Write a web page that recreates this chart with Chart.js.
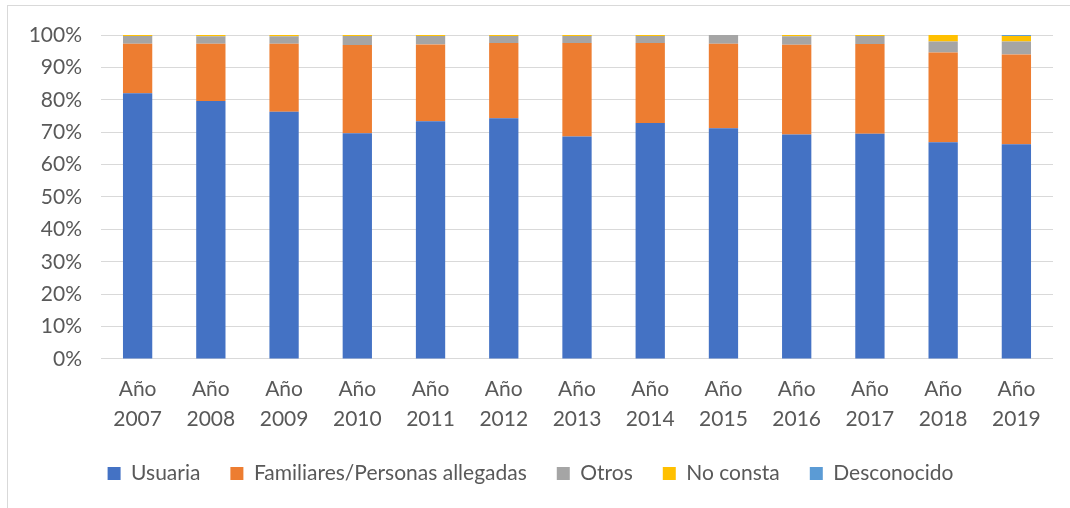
<!DOCTYPE html>
<html>
<head>
<meta charset="utf-8">
<script src="https://cdn.jsdelivr.net/npm/chart.js@4"></script>
<style>
  html, body { margin: 0; padding: 0; background: #fff; }
  #wrap { position: absolute; left: 7px; top: 5px; width: 1063px; height: 503px;
          border-left: 1px solid #d9d9d9; border-top: 1px solid #d9d9d9; box-sizing: border-box; }
  canvas { display: block; }
</style>
</head>
<body>
<div id="wrap"><canvas id="chart" width="1062" height="502"></canvas></div>
<script>
// Data (percent)
const years = ['2007', '2008', '2009', '2010', '2011', '2012', '2013', '2014', '2015', '2016', '2017', '2018', '2019'];
const usuaria     = [82.0, 79.6, 76.3, 69.7, 73.4, 74.3, 68.7, 72.8, 71.2, 69.3, 69.5, 66.9, 66.3];
const familiares  = [15.3, 17.7, 21.0, 27.2, 23.7, 23.2, 28.8, 24.7, 26.1, 27.7, 27.7, 27.7, 27.7];
const otros       = [2.4, 2.3, 2.3, 2.8, 2.6, 2.2, 2.2, 2.2, 2.7, 2.6, 2.5, 3.4, 4.0];
const noConsta    = [0.3, 0.4, 0.4, 0.3, 0.3, 0.3, 0.3, 0.3, 0.0, 0.4, 0.3, 2.0, 1.7];
const desconocido = [0, 0, 0, 0, 0, 0, 0, 0, 0, 0, 0, 0, 0.3];
const yTicks = [0, 10, 20, 30, 40, 50, 60, 70, 80, 90, 100];

const fontFamily = 'Lato, "Noto Sans", sans-serif';
const textColor = '#595959';

const ctx = document.getElementById('chart').getContext('2d');
const chart = new Chart(ctx, {
    type: 'bar',
    data: {
        labels: years.map(y => ['Año', y]),
        datasets: [
            { label: 'Usuaria', data: usuaria, backgroundColor: '#4472c4' },
            { label: 'Familiares/Personas allegadas', data: familiares, backgroundColor: '#ed7d31' },
            { label: 'Otros', data: otros, backgroundColor: '#a5a5a5' },
            { label: 'No consta', data: noConsta, backgroundColor: '#ffc000' },
            { label: 'Desconocido', data: desconocido, backgroundColor: '#5b9bd5' }
        ]
    },
    options: {
        responsive: false,
        animation: false,
        layout: { padding: { top: 29, right: 17, left: 0, bottom: 14 } },
        datasets: {
            bar: { barPercentage: 1, categoryPercentage: 0.40 }
        },
        scales: {
            x: {
                stacked: true,
                grid: { display: false },
                border: { display: false },
                // pull the plot down a bit, labels stay close to the legend
                afterFit: (scale) => { scale.height = scale.height - 8; },
                ticks: {
                    color: textColor,
                    font: { family: fontFamily, size: 21, lineHeight: 1.43 },
                    maxRotation: 0,
                    padding: 7
                }
            },
            y: {
                stacked: true,
                min: 0,
                max: 100,
                afterBuildTicks: (scale) => { scale.ticks = yTicks.map(v => ({ value: v })); },
                afterFit: (scale) => {
                    scale.width = 93;
                    scale.paddingTop = 0;
                    scale.paddingBottom = 0;
                },
                grid: { color: '#d9d9d9', lineWidth: 1, drawTicks: false },
                border: { display: false },
                ticks: {
                    color: textColor,
                    font: { family: fontFamily, size: 21 },
                    padding: 19,
                    callback: v => v + '%'
                }
            }
        },
        plugins: {
            legend: {
                position: 'bottom',
                labels: {
                    color: textColor,
                    font: { family: fontFamily, size: 21 },
                    boxWidth: 13,
                    boxHeight: 13,
                    padding: 30
                }
            },
            tooltip: { enabled: false }
        }
    }
});
</script>
</body>
</html>
